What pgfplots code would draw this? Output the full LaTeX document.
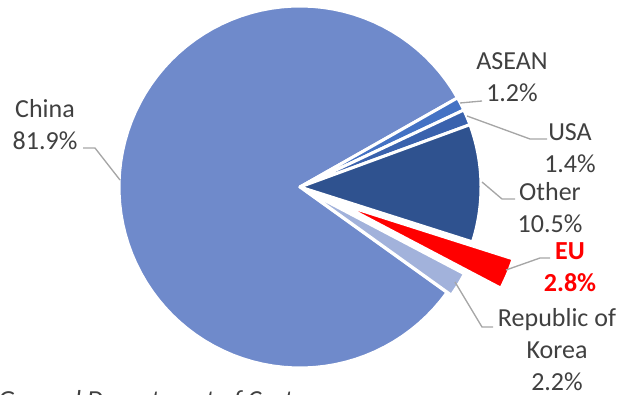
\documentclass[border=0pt]{standalone}
\usepackage{pgfplots}
\pgfplotsset{compat=1.18}
\usepackage{fontspec}
\setmainfont{Carlito}
\definecolor{cChina}{RGB}{111,138,203}
\definecolor{cAsean}{RGB}{68,114,196}
\definecolor{cUsa}{RGB}{58,98,173}
\definecolor{cOther}{RGB}{47,82,143}
\definecolor{cEU}{RGB}{255,0,0}
\definecolor{cKorea}{RGB}{162,178,219}
\definecolor{txt}{RGB}{64,64,64}
\definecolor{lead}{RGB}{166,166,166}
% shares (%), clockwise from the first slice angle
\def\pASEAN{1.2}
\def\pUSA{1.4}
\def\pOther{10.5}
\def\pEU{2.8}
\def\pKorea{2.2}
\def\pChina{81.9}
\pgfmathsetmacro\aA{29.5}
\pgfmathsetmacro\aB{\aA-3.6*\pASEAN}
\pgfmathsetmacro\aC{\aB-3.6*\pUSA}
\pgfmathsetmacro\aD{\aC-3.6*\pOther}
\pgfmathsetmacro\aE{\aD-3.6*\pEU}
\pgfmathsetmacro\aF{\aE-3.6*\pKorea}
\pgfmathsetmacro\aG{\aF-3.6*\pChina}
\pgfmathsetmacro\euMid{(\aD+\aE)/2}
\pgfmathsetmacro\euDx{44*cos(\euMid)}
\pgfmathsetmacro\euDy{44*sin(\euMid)}
\pgfmathsetmacro\koMid{(\aE+\aF)/2}
\pgfmathsetmacro\koDx{5*cos(\koMid)}
\pgfmathsetmacro\koDy{5*sin(\koMid)}
\def\R{181}
\newcommand{\slice}[5]{%
  \addplot[fill=#5, draw=white, line width=2.25pt, line join=round,
    domain=#2:#1, samples=90, variable=\t]
    ({#3+\R*cos(\t)},{#4+\R*sin(\t)}) -- (axis cs:#3,#4) -- cycle;}
\begin{document}
\begin{tikzpicture}
\begin{axis}[
  width=468pt, height=296.25pt, scale only axis,
  xmin=-300, xmax=324, ymin=-208, ymax=187,
  hide axis, clip=false,
]
\slice{\aG}{\aF}{0}{0}{cChina}
\slice{\aA}{\aB}{0}{0}{cAsean}
\slice{\aB}{\aC}{0}{0}{cUsa}
\slice{\aC}{\aD}{0}{0}{cOther}
\slice{\aD}{\aE}{\euDx}{\euDy}{cEU}
\slice{\aE}{\aF}{\koDx}{\koDy}{cKorea}
% leader lines
\addplot[lead, line width=1pt, no marks] coordinates {(160,84) (182,86)};
\addplot[lead, line width=1pt, no marks] coordinates {(167,71) (230,48) (247,48)};
\addplot[lead, line width=1pt, no marks] coordinates {(182,5) (202,-12) (215,-12)};
\addplot[lead, line width=1pt, no marks] coordinates {(206,-83) (240,-71) (250,-71)};
\addplot[lead, line width=1pt, no marks] coordinates {(155,-95) (182,-140) (193,-140)};
\addplot[lead, line width=1pt, no marks] coordinates {(-217,39) (-205,39) (-180,7)};
% labels
\begin{scope}[every node/.style={font=\fontsize{19.5}{24}\selectfont, text=txt, align=center, inner sep=0pt}]
\node at (axis cs:212,109.5) {ASEAN\\1.2\%};
\node at (axis cs:270,39) {USA\\1.4\%};
\node at (axis cs:250,-20.5) {Other\\10.5\%};
\node[text=cEU, font=\fontsize{19.5}{24}\selectfont\bfseries] at (axis cs:270,-80) {EU\\2.8\%};
\node at (axis cs:257,-162.5) {Republic of\\Korea\\2.2\%};
\node at (axis cs:-255,62.5) {China\\81.9\%};
\node[anchor=north west, align=left, font=\fontsize{19.5}{24}\selectfont\itshape] at (axis cs:-302,-203) {General Department of Customs};
\end{scope}
\end{axis}
\pgfresetboundingbox
\useasboundingbox (current axis.south west) rectangle (current axis.north east);
\end{tikzpicture}
\end{document}
